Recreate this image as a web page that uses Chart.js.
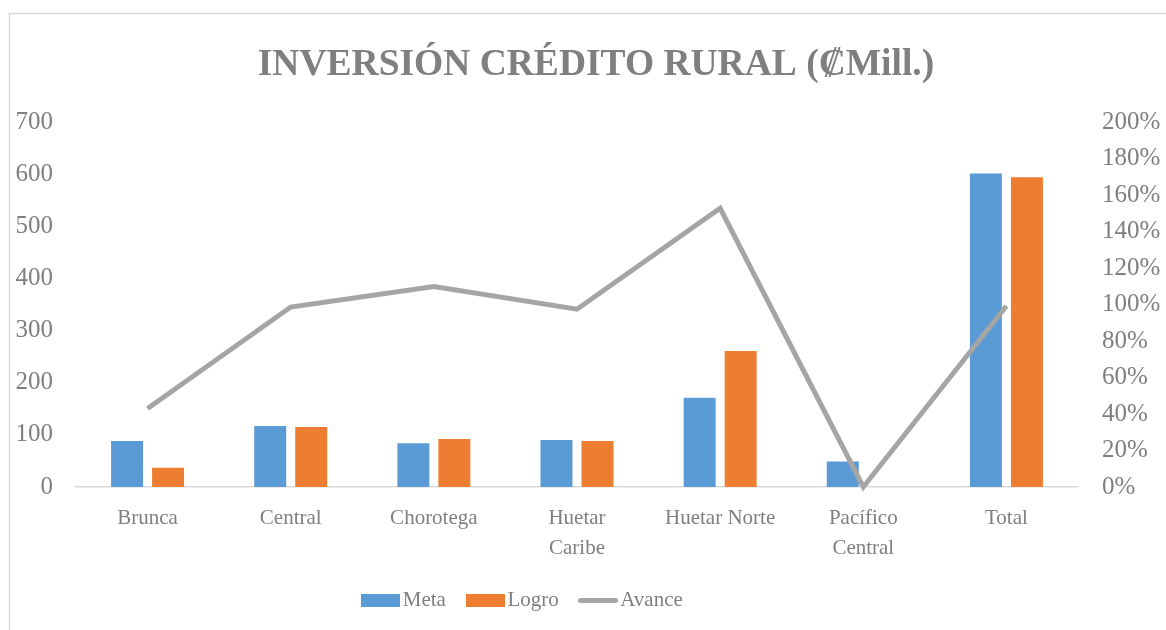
<!DOCTYPE html>
<html>
<head>
<meta charset="utf-8">
<script src="https://cdn.jsdelivr.net/npm/chart.js@4/dist/chart.umd.min.js"></script>
<style>
  html, body { margin: 0; padding: 0; background: #fff; }
  #wrap { width: 1166px; height: 630px; position: relative; }
</style>
</head>
<body>
<div id="wrap"><canvas id="c" width="1166" height="630"></canvas></div>
<script>
const categories = ['Brunca', 'Central', 'Chorotega', ['Huetar', 'Caribe'], 'Huetar Norte', ['Pacífico', 'Central'], 'Total'];
const meta = [88, 117, 84, 90, 171, 49, 601];
const logro = [37, 115, 92, 88, 261, 0, 594];
const avance = [0.43, 0.986, 1.098, 0.974, 1.527, 0, 0.992];
const leftTicks = [0, 100, 200, 300, 400, 500, 600, 700];
const rightTicks = [0, 0.2, 0.4, 0.6, 0.8, 1.0, 1.2, 1.4, 1.6, 1.8, 2.0];

const BLUE = '#5B9BD5', ORANGE = '#ED7D31', GRAY = '#A5A5A5', TXT = '#7F7F7F';
const FONT = "'Liberation Serif', 'Times New Roman', serif";

function swatch(w, h, color) {
  const cv = document.createElement('canvas');
  cv.width = w; cv.height = h;
  const g = cv.getContext('2d');
  g.fillStyle = color;
  if (h < 8) {
    g.beginPath();
    g.lineCap = 'round';
    g.strokeStyle = color;
    g.lineWidth = h;
    g.moveTo(h / 2, h / 2); g.lineTo(w - h / 2, h / 2); g.stroke();
  } else {
    g.fillRect(0, 0, w, h);
  }
  return cv;
}
const swMeta = swatch(39, 13, BLUE);
const swLogro = swatch(39, 13, ORANGE);
const swAvance = swatch(40, 5, GRAY);

const framePlugin = {
  id: 'frame',
  beforeDraw(chart) {
    const ctx = chart.ctx;
    ctx.save();
    ctx.fillStyle = '#fff';
    ctx.fillRect(0, 0, chart.width, chart.height);
    ctx.strokeStyle = '#D9D9D9';
    ctx.lineWidth = 1.5;
    ctx.strokeRect(9.5, 13.5, 1300, 800);
    ctx.restore();
  }
};
const shiftPlugin = {
  id: 'shiftBlocks',
  afterLayout(chart) {
    const lg = chart.legend;
    if (lg) { lg.left -= 57; lg.right -= 57; }
    const tb = chart.titleBlock;
    if (tb) { tb.left += 13; tb.right += 13; }
  }
};

new Chart(document.getElementById('c'), {
  data: {
    labels: categories,
    datasets: [
      { type: 'bar', label: 'Meta', data: meta, backgroundColor: BLUE, yAxisID: 'y', order: 1,
        categoryPercentage: 0.573, barPercentage: 0.78 },
      { type: 'bar', label: 'Logro', data: logro, backgroundColor: ORANGE, yAxisID: 'y', order: 1,
        categoryPercentage: 0.573, barPercentage: 0.78 },
      { type: 'line', label: 'Avance', data: avance, borderColor: GRAY, backgroundColor: GRAY, borderWidth: 5,
        pointRadius: 0, yAxisID: 'y1', order: 0, tension: 0, clip: false, borderJoinStyle: 'miter' }
    ]
  },
  options: {
    responsive: false,
    animation: false,
    layout: { padding: { top: 25, bottom: 9, left: 0, right: 0 } },
    plugins: {
      tooltip: { enabled: false },
      title: {
        display: true,
        text: 'INVERSIÓN CRÉDITO RURAL (₡Mill.)',
        color: '#7F7F7F',
        font: { family: FONT, size: 37.5, weight: 'bold', lineHeight: 1.2 },
        padding: { top: 18, bottom: 34 }
      },
      legend: {
        position: 'bottom',
        labels: {
          usePointStyle: true,
          pointStyleWidth: 23,
          boxHeight: 13,
          padding: 28,
          color: TXT,
          font: { family: FONT, size: 21 },
          sort: (a, b) => a.datasetIndex - b.datasetIndex,
          generateLabels(chart) {
            const sw = [swMeta, swLogro, swAvance];
            return chart.data.datasets.map((ds, i) => ({
              text: ds.label, datasetIndex: i, pointStyle: sw[i],
              fillStyle: ds.backgroundColor, strokeStyle: ds.backgroundColor, lineWidth: 0,
              fontColor: TXT, hidden: false
            }));
          }
        }
      }
    },
    scales: {
      x: {
        grid: { display: false, drawTicks: false },
        border: { display: true, color: '#D9D9D9', width: 1.5 },
        ticks: { color: TXT, font: { family: FONT, size: 21, lineHeight: 1.42 }, padding: 17, maxRotation: 0, autoSkip: false },
        afterFit(s) { s.height = 75; }
      },
      y: {
        position: 'left', min: 0, max: 700,
        grid: { display: false, drawTicks: false },
        border: { display: false },
        afterBuildTicks(s) { s.ticks = leftTicks.map(v => ({ value: v })); },
        ticks: { color: TXT, font: { family: FONT, size: 25 }, padding: 23 },
        afterFit(s) { s.width = 76; }
      },
      y1: {
        position: 'right', min: 0, max: 2,
        grid: { display: false, drawTicks: false },
        border: { display: false },
        afterBuildTicks(s) { s.ticks = rightTicks.map(v => ({ value: v })); },
        ticks: { color: TXT, font: { family: FONT, size: 25 }, padding: 24,
          callback: v => Math.round(v * 100) + '%' },
        afterFit(s) { s.width = 88; }
      }
    }
  },
  plugins: [framePlugin, shiftPlugin]
});
</script>
</body>
</html>
